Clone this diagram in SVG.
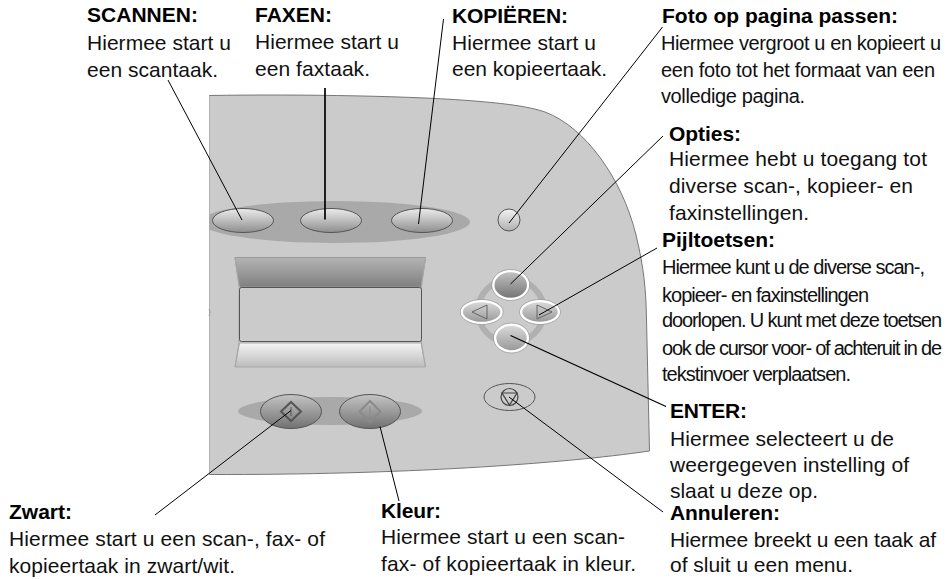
<svg xmlns="http://www.w3.org/2000/svg" width="952" height="579" viewBox="0 0 952 579">
<style>
text{font-family:"Liberation Sans",Arial,sans-serif;font-size:21px;fill:#111}
.t{font-weight:bold;fill:#000}
.n{font-size:20px}
.btn{stroke:#555;stroke-width:1;fill:url(#g1)}
.dark{stroke:#555;stroke-width:1;fill:url(#g2)}
.nav{stroke:#fff;stroke-width:2.5;fill:url(#g2)}
.navl{stroke:#fff;stroke-width:2.5;fill:url(#g5)}
.ol{fill:none;stroke:#a8a8a8;stroke-width:1}
.c line{stroke:#000;stroke-width:1}
.sym{fill:none;stroke:#666;stroke-width:1}
</style>
<defs>
<linearGradient id="g1" x1="0" y1="0" x2="0" y2="1"><stop offset="0" stop-color="#ececec"/><stop offset="1" stop-color="#8e8e8e"/></linearGradient>
<linearGradient id="g2" x1="0" y1="0" x2="0" y2="1"><stop offset="0" stop-color="#c4c4c4"/><stop offset="1" stop-color="#727272"/></linearGradient>
<linearGradient id="g3" x1="0" y1="0" x2="0" y2="1"><stop offset="0" stop-color="#b4b4b4"/><stop offset="1" stop-color="#808080"/></linearGradient>
<linearGradient id="g4" x1="0" y1="0" x2="0" y2="1"><stop offset="0" stop-color="#f4f4f4"/><stop offset="1" stop-color="#bcbcbc"/></linearGradient>
<linearGradient id="g5" x1="0" y1="0" x2="0" y2="1"><stop offset="0" stop-color="#dcdcdc"/><stop offset="1" stop-color="#969696"/></linearGradient>
<linearGradient id="g6" x1="0" y1="0" x2="0" y2="1"><stop offset="0" stop-color="#f2f2f2"/><stop offset="1" stop-color="#b0b0b0"/></linearGradient>
<clipPath id="pc"><rect x="209" y="90" width="460" height="400"/></clipPath>
</defs>
<g id="panel">
<path d="M209 95.500C300 94 420 96 480 101.500C510 104 530 107 545 112C585 127 622 178 636 235C644 268 646 290 646.500 320L649.500 451C560 464 400 475 209 474.500Z" fill="#cbcbcb" stroke="#777" stroke-width="1"/>
<rect x="208" y="90" width="1.200" height="390" fill="#fff"/>
<path d="M209 309Q211.500 312.500 209 316" fill="none" stroke="#999" stroke-width="1"/>
<ellipse cx="335" cy="222" rx="135" ry="21" fill="#a9a9a9" clip-path="url(#pc)"/>
<ellipse cx="330" cy="411" rx="92" ry="14" fill="#a9a9a9"/>
<ellipse cx="511" cy="311" rx="33" ry="32" fill="none" stroke="#b0b0b0" stroke-width="6"/>
</g>
<g id="display">
<path d="M235 257.500H425.500L421 287H239.500Z" fill="url(#g3)" stroke="#999" stroke-width="1"/>
<path d="M239.500 343H421L425.500 367H235Z" fill="url(#g4)" stroke="#aaa" stroke-width="1"/>
<path class="ol" d="M235 257.500L239 287V343L235 367M425.500 257.500L421.500 287V343L425.500 367"/>
<rect x="239.500" y="287.500" width="182" height="54" rx="2" fill="#cbcbcb" stroke="#555" stroke-width="1"/>
</g>
<g id="btn-scannen"><ellipse class="btn" cx="243" cy="220.500" rx="30.500" ry="12"/></g>
<g id="btn-faxen"><ellipse class="btn" cx="331" cy="220.500" rx="30.500" ry="12"/></g>
<g id="btn-kopieren"><ellipse class="btn" cx="422" cy="220.500" rx="30.500" ry="12"/></g>
<g id="btn-foto"><circle cx="509" cy="220" r="11" fill="url(#g6)" stroke="#555" stroke-width="1"/></g>
<g id="btn-zwart"><ellipse class="dark" cx="291" cy="411.500" rx="30.500" ry="17"/>
<path d="M291 402L301 411.500L291 421L281 411.500Z" fill="none" stroke="#555" stroke-width="2"/><path d="M291 407V416" stroke="#555" stroke-width="1"/></g>
<g id="btn-kleur"><ellipse class="dark" cx="370" cy="411.500" rx="30.500" ry="17"/>
<path d="M370 401L380.500 411.500L370 422L359.500 411.500Z" fill="none" stroke="#8a8a8a" stroke-width="2"/><path d="M370 406V417" stroke="#8a8a8a" stroke-width="1"/></g>
<g id="btn-opties"><ellipse class="nav" cx="510.700" cy="285" rx="17.500" ry="14"/><ellipse cx="510.700" cy="285" rx="19" ry="15.500" fill="none" stroke="#999" stroke-width="0.700"/></g>
<g id="btn-links"><ellipse class="navl" cx="481.700" cy="312" rx="20" ry="11"/><ellipse cx="481.700" cy="312" rx="21.500" ry="12.500" fill="none" stroke="#999" stroke-width="0.700"/><path class="sym" d="M472 312L487 305V319Z"/></g>
<g id="btn-rechts"><ellipse class="navl" cx="540" cy="312" rx="19" ry="11"/><ellipse cx="540" cy="312" rx="20.500" ry="12.500" fill="none" stroke="#999" stroke-width="0.700"/><path class="sym" d="M552 312L537 305V319Z"/></g>
<g id="btn-enter"><ellipse class="navl" cx="511.500" cy="338" rx="16.500" ry="13.500"/><ellipse cx="511.500" cy="338" rx="18" ry="15" fill="none" stroke="#999" stroke-width="0.700"/></g>
<g id="btn-annuleren"><ellipse cx="509.500" cy="397" rx="25.500" ry="13.500" fill="#cbcbcb" stroke="#555" stroke-width="1"/><circle cx="509.500" cy="397" r="8.500" fill="none" stroke="#444" stroke-width="1.200"/><path d="M502 393H517L509.500 405Z" fill="none" stroke="#444" stroke-width="1.200"/></g>
<g id="connectors" class="c">
<line x1="168" y1="80" x2="242" y2="220"/>
<line x1="325" y1="88" x2="325" y2="219.500" style="stroke-width:1.700"/>
<line x1="443.500" y1="19" x2="418.500" y2="224"/>
<line x1="662.500" y1="27" x2="509" y2="223"/>
<line x1="663" y1="136" x2="510.500" y2="284"/>
<line x1="657" y1="248" x2="539" y2="315"/>
<line x1="666" y1="406.500" x2="510.500" y2="335.500" style="stroke-width:1.300"/>
<line x1="663" y1="512" x2="509" y2="397"/>
<line x1="155" y1="515" x2="291" y2="410.500"/>
<line x1="380" y1="426.500" x2="399" y2="501"/>
</g>
<g id="label-scannen"><text class="t" x="87" y="22" textLength="111">SCANNEN:</text><text x="87" y="50" textLength="144">Hiermee start u</text><text x="87" y="77" textLength="131">een scantaak.</text></g>
<g id="label-faxen"><text class="t" x="255" y="22" textLength="77">FAXEN:</text><text x="255" y="49" textLength="144">Hiermee start u</text><text x="255" y="76" textLength="115">een faxtaak.</text></g>
<g id="label-kopieren"><text class="t" x="452" y="23" textLength="116">KOPIËREN:</text><text x="452" y="50" textLength="144">Hiermee start u</text><text x="452" y="76" textLength="155">een kopieertaak.</text></g>
<g id="label-foto"><text class="t" x="662" y="23" textLength="236">Foto op pagina passen:</text><text class="n" x="661" y="50" textLength="280">Hiermee vergroot u en kopieert u</text><text class="n" x="661" y="77" textLength="274">een foto tot het formaat van een</text><text class="n" x="661" y="103" textLength="144">volledige pagina.</text></g>
<g id="label-opties"><text class="t" x="669" y="141" textLength="72">Opties:</text><text x="669" y="166" textLength="258">Hiermee hebt u toegang tot</text><text x="669" y="193" textLength="244">diverse scan-, kopieer- en</text><text x="669" y="220" textLength="140">faxinstellingen.</text></g>
<g id="label-pijl"><text class="t" x="662" y="247" textLength="113">Pijltoetsen:</text><text class="n" x="662" y="274" textLength="263">Hiermee kunt u de diverse scan-,</text><text class="n" x="662" y="302" textLength="207">kopieer- en faxinstellingen</text><text class="n" x="662" y="327" textLength="280">doorlopen. U kunt met deze toetsen</text><text class="n" x="662" y="355" textLength="280">ook de cursor voor- of achteruit in de</text><text class="n" x="662" y="381" textLength="189">tekstinvoer verplaatsen.</text></g>
<g id="label-enter"><text class="t" x="670" y="418" textLength="77">ENTER:</text><text x="670" y="446" textLength="224">Hiermee selecteert u de</text><text x="670" y="472" textLength="239">weergegeven instelling of</text><text x="670" y="498" textLength="148">slaat u deze op.</text></g>
<g id="label-annuleren"><text class="t" x="670" y="520" textLength="110">Annuleren:</text><text x="670" y="547" textLength="266">Hiermee breekt u een taak af</text><text x="670" y="572" textLength="183">of sluit u een menu.</text></g>
<g id="label-zwart"><text class="t" x="9" y="519" textLength="63">Zwart:</text><text x="9" y="546" textLength="316">Hiermee start u een scan-, fax- of</text><text x="9" y="573" textLength="226">kopieertaak in zwart/wit.</text></g>
<g id="label-kleur"><text class="t" x="381" y="518" textLength="60">Kleur:</text><text x="381" y="544" textLength="244">Hiermee start u een scan-</text><text x="381" y="571" textLength="255">fax- of kopieertaak in kleur.</text></g>
</svg>
